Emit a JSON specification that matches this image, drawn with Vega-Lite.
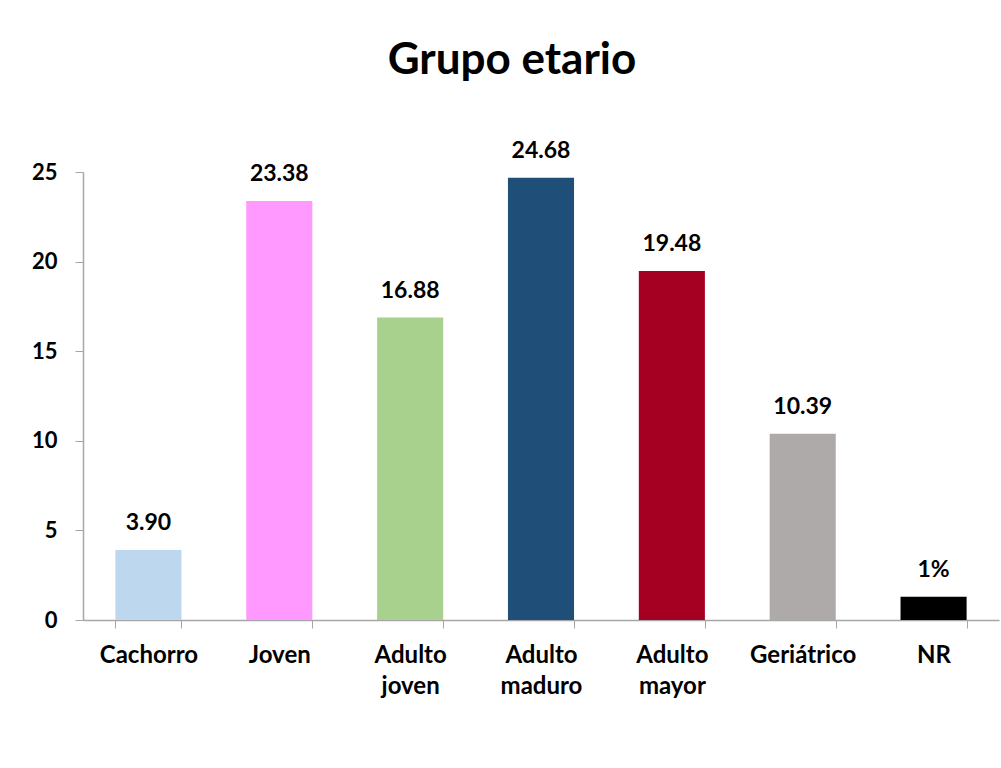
{
  "$schema": "https://vega.github.io/schema/vega-lite/v6.json",
  "width": 916,
  "height": 448,
  "autosize": {"type": "none"},
  "padding": {"left": 83, "top": 172, "right": 2, "bottom": 148},
  "background": "white",
  "title": {
    "text": "Grupo etario",
    "font": "Lato",
    "fontSize": 44,
    "fontWeight": "bold",
    "color": "black",
    "frame": "group",
    "anchor": "middle",
    "baseline": "alphabetic",
    "offset": 22,
    "dx": -29
  },
  "data": {
    "values": [
      {"grupo": "Cachorro", "valor": 3.90, "etiqueta": "3.90"},
      {"grupo": "Joven", "valor": 23.38, "etiqueta": "23.38"},
      {"grupo": "Adulto joven", "valor": 16.88, "etiqueta": "16.88"},
      {"grupo": "Adulto maduro", "valor": 24.68, "etiqueta": "24.68"},
      {"grupo": "Adulto mayor", "valor": 19.48, "etiqueta": "19.48"},
      {"grupo": "Geriátrico", "valor": 10.39, "etiqueta": "10.39"},
      {"grupo": "NR", "valor": 1.3, "etiqueta": "1%"}
    ]
  },
  "encoding": {
    "x": {
      "field": "grupo",
      "type": "nominal",
      "sort": null,
      "scale": {"paddingInner": 0.495, "paddingOuter": 0.2475},
      "axis": {
        "title": null,
        "labelAngle": 0,
        "labelFont": "Lato",
        "labelFontSize": 24,
        "labelFontWeight": "bold",
        "labelColor": "black",
        "labelPadding": 15,
        "labelLineHeight": 31,
        "labelExpr": "datum.value == 'Adulto joven' ? ['Adulto','joven'] : datum.value == 'Adulto maduro' ? ['Adulto','maduro'] : datum.value == 'Adulto mayor' ? ['Adulto','mayor'] : datum.value",
        "tickBand": "extent",
        "tickSize": 8,
        "tickColor": "#A6A6A6",
        "domainColor": "#A6A6A6",
        "domainWidth": 1.5,
        "labelOverlap": false
      }
    },
    "y": {
      "field": "valor",
      "type": "quantitative",
      "scale": {"domain": [0, 25], "nice": false},
      "axis": {
        "title": null,
        "values": [0, 5, 10, 15, 20, 25],
        "grid": false,
        "labelFont": "Lato",
        "labelFontSize": 22,
        "labelFontWeight": "bold",
        "labelColor": "black",
        "labelPadding": 18,
        "tickSize": 8,
        "tickColor": "#A6A6A6",
        "domainColor": "#A6A6A6",
        "domainWidth": 1.5
      }
    }
  },
  "layer": [
    {
      "mark": {"type": "bar"},
      "encoding": {
        "color": {
          "field": "grupo",
          "type": "nominal",
          "sort": null,
          "legend": null,
          "scale": {
            "domain": ["Cachorro", "Joven", "Adulto joven", "Adulto maduro", "Adulto mayor", "Geriátrico", "NR"],
            "range": ["#BDD7EE", "#FF99FF", "#A9D18E", "#1F4E79", "#A50021", "#AEAAAA", "#000000"]
          }
        }
      }
    },
    {
      "mark": {
        "type": "text",
        "font": "Lato",
        "fontSize": 23,
        "fontWeight": "bold",
        "color": "black",
        "baseline": "alphabetic",
        "dy": -20
      },
      "encoding": {
        "text": {"field": "etiqueta", "type": "nominal"}
      }
    }
  ],
  "config": {
    "view": {"stroke": null}
  }
}
